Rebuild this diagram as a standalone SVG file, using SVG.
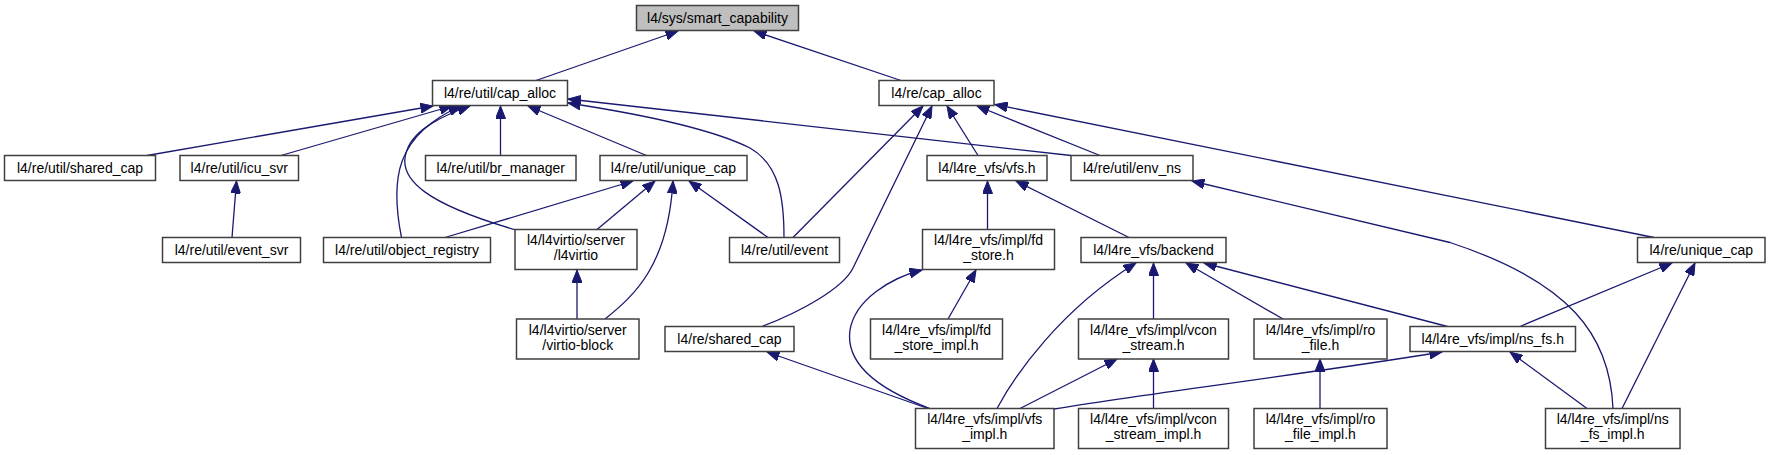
<svg xmlns="http://www.w3.org/2000/svg" width="1771" height="455" viewBox="0 0 1771 455">
<style>
.n rect{fill:#ffffff;stroke:#404040;stroke-width:1.5}
.n.root rect{fill:#bfbfbf}
.n text{font-family:"Liberation Sans",Arial,sans-serif;font-size:14px;fill:#000000;text-anchor:middle}
.e path{fill:none;stroke:#191970;stroke-width:1.3;marker-end:url(#arr)}
</style>
<defs>
<marker id="arr" markerUnits="userSpaceOnUse" markerWidth="13" markerHeight="10" viewBox="0 0 13 10" refX="12.5" refY="5" orient="auto">
<path d="M0,0 L12.5,5 L0,10 z" fill="#191970" stroke="#191970" stroke-width="1"/>
</marker>
</defs>
<rect width="1771" height="455" fill="#ffffff"/>
<g id="edges" class="e">
<path d="M536,80.5 L678,31"/>
<path d="M901,80.5 L754,31"/>
<path d="M147,155.5 L433,106"/>
<path d="M281,155.5 L452,106"/>
<path d="M401.5,237.5 C390,180 395,135 461,106"/>
<path d="M516,230 C430,205 395,180 407,150 C415,128 445,115 470,106"/>
<path d="M500.5,155.5 L500.5,106"/>
<path d="M646.5,155.5 L528,106"/>
<path d="M784,237.5 C784,200 780,165 750,148 C710,128 640,114 568,103"/>
<path d="M1071,155.5 L568,99"/>
<path d="M445,237.5 L633,181"/>
<path d="M597,229.5 L655,181"/>
<path d="M605,319 C635,295 668,265 673,181"/>
<path d="M768,237.5 L689,181"/>
<path d="M232,237.5 L236.5,181"/>
<path d="M577,319 L577,270"/>
<path d="M793,237.5 L923,106"/>
<path d="M762,326.5 C800,312 843,288.5 853,268 L932,106"/>
<path d="M978,155.5 L947,106"/>
<path d="M1100,155.5 L977,106"/>
<path d="M1654,237.5 L995,104.5"/>
<path d="M987.5,229.5 L987.5,181"/>
<path d="M1129,237.5 L1016,181"/>
<path d="M948,319 L976,270"/>
<path d="M930,408.5 C880,390 845,365 850,330 C855,300 890,278 922,270"/>
<path d="M997,408.5 C1015,375 1060,310 1136,263"/>
<path d="M1153.5,319 L1153.5,263"/>
<path d="M1283,319 L1186,263"/>
<path d="M1447.5,326.5 L1204,263"/>
<path d="M1520,326.5 L1672,263"/>
<path d="M1622,408.5 L1695,263"/>
<path d="M1613,408.5 C1610,335 1570,282 1450,242.5 L1192,181"/>
<path d="M928,408.5 L767,352"/>
<path d="M1020,408.5 L1117,359"/>
<path d="M1153.5,408.5 L1153.5,359"/>
<path d="M1054,409 C1150,393 1300,375 1442,352"/>
<path d="M1320,408.5 L1320,359"/>
<path d="M1587,408.5 L1510,352"/>
</g>
<g id="n_smart_capability" class="n root"><rect x="636.5" y="5.5" width="162" height="25"/><text x="717.5" y="22.5">l4/sys/smart_capability</text></g>
<g id="n_util_cap_alloc" class="n"><rect x="432.5" y="80.5" width="135" height="25"/><text x="500" y="97.5">l4/re/util/cap_alloc</text></g>
<g id="n_re_cap_alloc" class="n"><rect x="879" y="80.5" width="115" height="25"/><text x="936.5" y="97.5">l4/re/cap_alloc</text></g>
<g id="n_util_shared_cap" class="n"><rect x="4.5" y="155.5" width="151" height="25"/><text x="80" y="172.5">l4/re/util/shared_cap</text></g>
<g id="n_util_icu_svr" class="n"><rect x="180" y="155.5" width="118.5" height="25"/><text x="239.25" y="172.5">l4/re/util/icu_svr</text></g>
<g id="n_util_br_manager" class="n"><rect x="425.5" y="155.5" width="150.5" height="25"/><text x="500.75" y="172.5">l4/re/util/br_manager</text></g>
<g id="n_util_unique_cap" class="n"><rect x="600" y="155.5" width="147" height="25"/><text x="673.5" y="172.5">l4/re/util/unique_cap</text></g>
<g id="n_vfs_h" class="n"><rect x="927" y="155.5" width="120" height="25"/><text x="987" y="172.5">l4/l4re_vfs/vfs.h</text></g>
<g id="n_util_env_ns" class="n"><rect x="1071" y="155.5" width="122" height="25"/><text x="1132" y="172.5">l4/re/util/env_ns</text></g>
<g id="n_util_event_svr" class="n"><rect x="162.5" y="237.5" width="138" height="25"/><text x="231.5" y="254.5">l4/re/util/event_svr</text></g>
<g id="n_util_object_registry" class="n"><rect x="323.5" y="237.5" width="167" height="25"/><text x="407" y="254.5">l4/re/util/object_registry</text></g>
<g id="n_l4virtio" class="n"><rect x="515" y="229.5" width="122" height="40"/><text x="576" y="245">l4/l4virtio/server</text><text x="576" y="260">/l4virtio</text></g>
<g id="n_util_event" class="n"><rect x="729.5" y="237.5" width="110" height="25"/><text x="784.5" y="254.5">l4/re/util/event</text></g>
<g id="n_fd_store" class="n"><rect x="922.5" y="229.5" width="132" height="40"/><text x="988.5" y="245">l4/l4re_vfs/impl/fd</text><text x="988.5" y="260">_store.h</text></g>
<g id="n_backend" class="n"><rect x="1081" y="237.5" width="145" height="25"/><text x="1153.5" y="254.5">l4/l4re_vfs/backend</text></g>
<g id="n_re_unique_cap" class="n"><rect x="1637.5" y="237.5" width="127.5" height="25"/><text x="1701.25" y="254.5">l4/re/unique_cap</text></g>
<g id="n_virtio_block" class="n"><rect x="516.5" y="319" width="122.5" height="40"/><text x="577.75" y="334.5">l4/l4virtio/server</text><text x="577.75" y="349.5">/virtio-block</text></g>
<g id="n_re_shared_cap" class="n"><rect x="665" y="326.5" width="129" height="25"/><text x="729.5" y="343.5">l4/re/shared_cap</text></g>
<g id="n_fd_store_impl" class="n"><rect x="870.5" y="319" width="132" height="40"/><text x="936.5" y="334.5">l4/l4re_vfs/impl/fd</text><text x="936.5" y="349.5">_store_impl.h</text></g>
<g id="n_vcon_stream" class="n"><rect x="1078.5" y="319" width="150" height="40"/><text x="1153.5" y="334.5">l4/l4re_vfs/impl/vcon</text><text x="1153.5" y="349.5">_stream.h</text></g>
<g id="n_ro_file" class="n"><rect x="1254" y="319" width="133" height="40"/><text x="1320.5" y="334.5">l4/l4re_vfs/impl/ro</text><text x="1320.5" y="349.5">_file.h</text></g>
<g id="n_ns_fs" class="n"><rect x="1410" y="326.5" width="165.5" height="25"/><text x="1492.75" y="343.5">l4/l4re_vfs/impl/ns_fs.h</text></g>
<g id="n_vfs_impl" class="n"><rect x="915.5" y="408.5" width="138.5" height="40"/><text x="984.75" y="424">l4/l4re_vfs/impl/vfs</text><text x="984.75" y="439">_impl.h</text></g>
<g id="n_vcon_stream_impl" class="n"><rect x="1078.5" y="408.5" width="150" height="40"/><text x="1153.5" y="424">l4/l4re_vfs/impl/vcon</text><text x="1153.5" y="439">_stream_impl.h</text></g>
<g id="n_ro_file_impl" class="n"><rect x="1254" y="408.5" width="133" height="40"/><text x="1320.5" y="424">l4/l4re_vfs/impl/ro</text><text x="1320.5" y="439">_file_impl.h</text></g>
<g id="n_ns_fs_impl" class="n"><rect x="1545.5" y="408.5" width="134.5" height="40"/><text x="1612.75" y="424">l4/l4re_vfs/impl/ns</text><text x="1612.75" y="439">_fs_impl.h</text></g>
</svg>
